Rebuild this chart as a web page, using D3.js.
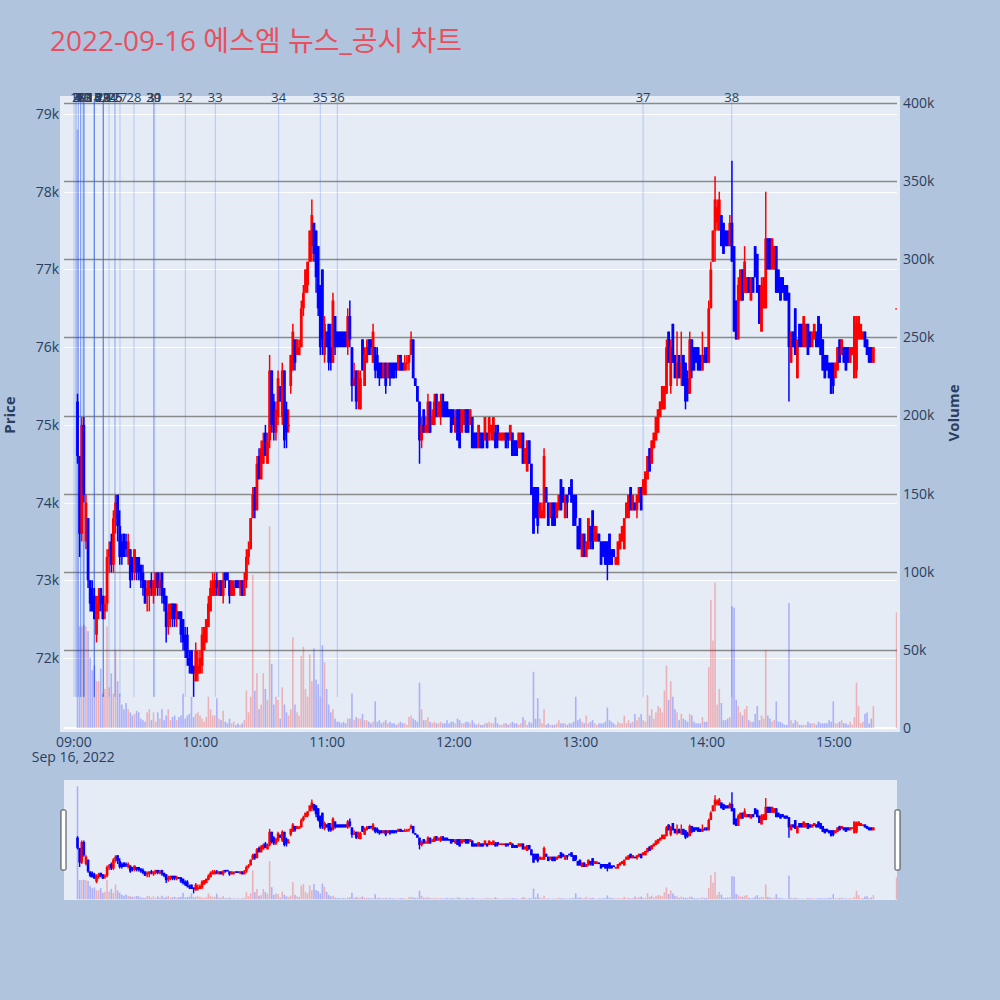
<!DOCTYPE html>
<html><head><meta charset="utf-8">
<script src="https://cdn.jsdelivr.net/npm/d3@7/dist/d3.min.js"></script>
<style>
body{margin:0;background:#B0C4DE;}
svg{display:block;font-family:"Open Sans","Noto Sans CJK KR",sans-serif;}
</style></head>
<body><svg id="chart" width="1000" height="1000"></svg>
<script>
// ---------------- data ----------------
const tradeDay = "2022-09-16";
const firstBar = "09:02";     // first 1-minute candle
const closingBar = "15:30";   // closing auction candle (last element)
const titleText = "2022-09-16 에스엠 뉴스_공시 차트";

const opens = [
75300,74600,73600,75000,73500,73800,73000,72900,72800,72300,
72600,72900,72800,72600,72700,73300,73500,73200,73800,74100,
73700,73500,73600,73500,73300,73400,73300,73100,73300,73300,
73200,73100,73000,72800,72800,73000,72800,72900,73100,72900,
73100,72900,72800,72400,72500,72700,72700,72500,72600,72600,
72500,72300,72300,72000,72100,71900,71700,71800,71800,71900,
72100,72200,72400,72600,72800,72800,73000,72800,73000,72800,
73100,73100,73000,72800,72800,73000,73000,72900,73000,72800,
73000,73300,73400,73800,74200,73900,74600,74300,74500,74900,
74500,74800,75700,75300,74900,75100,75500,75100,75700,75200,
75000,75500,75700,76100,75900,75900,76000,76500,76700,76800,
77100,77300,77600,77500,77300,76800,77000,75900,76200,76300,
76000,75800,76400,76200,76200,76200,76200,76200,76000,76400,
76000,75500,75700,75300,75200,76100,75500,75800,76100,76100,
75800,76000,75900,75800,75800,75600,75800,75600,75800,75800,
75800,75800,75700,75900,75800,75700,75800,75800,75900,76100,
75600,75500,75300,74800,75200,74900,74900,75300,75000,75000,
75400,75100,75100,75400,75300,75300,75200,75200,75200,74900,
75200,75200,74900,75000,75200,75200,75000,75100,74900,74900,
74700,74900,74900,74800,74900,74800,74900,74800,74900,75000,
74800,74800,74800,74900,74900,74800,74900,74800,74800,74700,
74700,74900,74500,74400,74800,74500,74200,74200,74200,73800,
73800,73800,74200,74000,73800,74000,74000,73800,73900,74300,
74200,73800,74100,74200,74300,74100,74100,73700,73800,73300,
73600,73300,73400,73700,73900,73500,73500,73600,73500,73500,
73500,73500,73600,73400,73400,73200,73200,73400,73500,73400,
73800,73800,74200,73900,74000,73900,74000,74200,74100,74100,
74300,74700,74500,74700,74800,74900,75100,75200,75200,75400,
76200,75500,76300,75900,75600,75900,75600,75900,75800,75600,
75400,76100,76000,76000,76000,75900,75700,75900,76000,75800,
76500,77100,77500,77600,77500,77700,77600,77500,77500,77300,
77600,77300,76600,76100,76600,77000,76700,76700,76900,76600,
76900,77300,77200,76800,76200,76500,76500,77400,77400,77000,
77000,77300,77000,76900,76900,76800,76800,76700,75800,76200,
76500,75600,76300,76300,76000,76000,76300,76200,76000,76100,
76200,76400,76300,76100,75900,75900,75800,75800,75800,75600,
75700,76100,75900,76000,76000,76000,75800,75900,75600,75700,
76100,76100,76100,76200,76100,76000,76000,75800,
76500];

const highs = [
75400,74600,75100,75100,74100,73800,73000,73000,72900,72800,
72900,72900,72800,72800,73400,73500,73600,73900,74100,74100,
73900,73600,73600,73600,73600,73400,73300,73400,73300,73300,
73200,73200,73000,73000,73000,73100,73000,73100,73100,73100,
73100,72900,72800,72700,72700,72700,72700,72700,72600,72600,
72500,72400,72400,72100,72100,71900,72200,72100,72100,72400,
72400,72500,72800,73000,73100,73100,73100,73000,73000,73100,
73100,73100,73000,73000,73000,73000,73000,73000,73000,73100,
73400,73500,73800,74200,74200,74600,74700,74800,74900,75000,
74900,75900,75700,75400,75300,75700,75500,75800,75700,75300,
75200,75900,76300,76100,76100,76100,76600,76800,77000,77100,
77500,77900,77600,77500,77300,76800,77000,76400,76200,76300,
76300,76700,76400,76200,76200,76200,76200,76200,76500,76600,
76000,75800,75700,75700,75700,76100,76000,76100,76100,76100,
76300,76000,76000,75800,75800,75800,75800,75800,75800,75800,
75800,75800,75900,75900,75800,75900,75900,75900,76200,76100,
75600,75500,75300,75100,75200,75100,75400,75300,75200,75400,
75400,75300,75400,75400,75300,75300,75200,75200,75200,75200,
75200,75200,75200,75200,75200,75200,75200,75100,74900,74900,
75000,74900,74900,75100,74900,75100,75000,75100,75000,75000,
74900,74900,74900,74900,74900,75000,74900,74800,74800,74900,
74900,74900,74700,74800,74800,74500,74200,74200,74200,74000,
74000,74700,74200,74000,74000,74000,74000,74000,74100,74300,
74200,74100,74100,74200,74300,74100,74100,73700,73800,73600,
73600,73500,73800,73700,73900,73700,73700,73600,73500,73500,
73500,73500,73600,73400,73400,73300,73500,73600,73700,73800,
74000,74100,74200,74100,74000,74100,74200,74200,74300,74400,
74600,74700,74800,74900,75100,75200,75300,75500,75500,76100,
76200,76100,76300,75900,76200,75900,76200,75900,75800,75700,
76200,76100,76000,76000,76000,75900,76200,76000,76000,76600,
77100,77500,78200,77900,78000,77700,77600,77500,77500,77700,
78400,77300,76600,76900,77000,77000,77300,76900,76900,76900,
76900,77300,77200,76800,76900,76900,78000,77400,77400,77400,
77300,77300,77000,76900,76900,76800,76800,76700,76200,76200,
76500,76100,76300,76300,76400,76300,76300,76200,76200,76300,
76200,76400,76300,76100,75900,75900,75800,75800,75800,75800,
76000,76100,76100,76000,76000,76000,76000,76000,76400,76400,
76400,76300,76200,76200,76100,76000,76000,76000,
76500];

const lows = [
74500,73300,73500,74000,73400,72900,72600,72600,72500,72200,
72500,72600,72500,72500,72600,73100,73100,73100,73600,73500,
73200,73200,73300,73300,73200,72900,73000,73000,73000,73000,
72900,72800,72700,72600,72600,72800,72700,72800,72800,72800,
72700,72600,72200,72300,72400,72400,72400,72400,72500,72200,
72100,72000,71900,71800,71800,71500,71700,71700,71800,71800,
72100,72200,72400,72600,72800,72800,72800,72800,72800,72700,
72900,73000,72700,72800,72800,72900,72900,72800,72800,72800,
72900,73200,73400,73800,73800,73900,74300,74300,74500,74600,
74500,74700,74900,74800,74800,75000,75300,75000,74700,74700,
74900,75400,75700,75700,75900,75900,76000,76400,76700,76700,
77100,77100,77100,76700,76400,75900,75900,75800,76000,75700,
75700,75800,75900,76000,76000,76000,76000,76000,75900,76000,
75300,75500,75200,75200,75200,75700,75500,75800,75900,75900,
75800,75600,75600,75500,75600,75600,75400,75600,75500,75600,
75600,75600,75700,75700,75700,75700,75700,75700,75900,75600,
75500,75300,74500,74700,74900,74900,74900,74900,75000,75000,
75100,75100,75000,75100,75100,75100,75100,74900,75000,74900,
74800,74700,74900,75000,74900,74900,75000,74700,74700,74700,
74700,74700,74700,74800,74700,74800,74800,74800,74700,74700,
74800,74800,74800,74700,74700,74800,74600,74600,74600,74700,
74700,74500,74500,74400,74500,74100,73600,73800,73600,73800,
73800,73800,74000,73700,73800,73700,73700,73800,73900,73900,
74000,73800,73800,74100,74000,73700,73700,73400,73400,73300,
73300,73300,73400,73400,73400,73500,73500,73500,73200,73300,
73200,73000,73200,73200,73300,73200,73200,73400,73500,73400,
73800,73800,73900,73900,73900,73800,74000,73900,74100,74100,
74300,74400,74500,74700,74800,74900,75100,75200,75200,75400,
75800,75400,75800,75600,75500,75600,75500,75500,75200,75300,
75400,75600,75700,75800,75700,75700,75700,75800,75800,75800,
76500,77100,77100,77500,77500,77300,77200,77300,77300,77300,
77100,76200,76100,76100,76600,76600,76700,76700,76700,76600,
76700,76900,76700,76300,76200,76500,76500,77000,77000,77000,
77000,76700,76700,76600,76700,76600,76600,75300,75800,76000,
75900,75600,76000,76000,76000,76000,75900,76000,76000,76100,
76000,76000,75900,75700,75600,75700,75600,75400,75400,75600,
75700,75800,75900,75800,75700,75800,75800,75900,75600,75600,
76100,76100,76100,76000,75900,75800,75800,75800,
76500];

const closes = [
74600,73600,75000,74100,74000,73000,72700,72600,72500,72700,
72800,72700,72500,72700,73300,73400,73200,73800,74000,73700,
73300,73300,73300,73400,73500,73000,73100,73400,73100,73100,
73000,72900,72700,72900,73000,72900,73000,73100,72900,73000,
72800,72700,72400,72600,72700,72500,72500,72600,72500,72300,
72200,72100,72000,71900,71800,71800,72100,71900,72000,72300,
72400,72500,72700,72900,73000,73000,72900,73000,72800,73000,
73000,73000,72800,73000,72900,72900,72900,73000,72800,73000,
73300,73400,73800,74100,73900,74500,74300,74700,74800,74600,
74800,75700,75000,74900,75200,75600,75300,75700,74800,74900,
75000,75900,76200,75800,76100,76000,76500,76700,77000,77100,
77500,77700,77200,76900,76500,76000,76100,76300,76000,75800,
75800,76600,76000,76000,76000,76000,76000,76000,76400,76100,
75500,75600,75300,75700,75600,75700,75900,76000,75900,76000,
76200,75700,75700,75600,75600,75800,75500,75800,75600,75600,
75600,75700,75900,75700,75700,75800,75800,75900,76100,75600,
75500,75300,74800,75000,74900,75000,75300,74900,75100,75300,
75100,75300,75300,75100,75100,75100,75100,74900,75000,75100,
74800,74700,75200,75200,74900,74900,75200,74700,74700,74700,
75000,74700,74700,75100,74700,75100,75000,75100,74700,74800,
74900,74900,74900,74700,74800,75000,74600,74600,74600,74900,
74900,74500,74700,74800,74500,74100,73600,73800,73700,74000,
73900,74600,74000,73700,74000,73700,73700,74000,74100,73900,
74000,74100,74000,74100,74000,73700,73800,73400,73400,73600,
73300,73500,73800,73500,73400,73700,73600,73500,73200,73300,
73200,73200,73200,73200,73300,73300,73500,73600,73700,73800,
74000,74100,73900,74100,73900,74100,74200,73900,74300,74400,
74600,74400,74800,74900,75100,75200,75300,75500,75500,76000,
75800,76000,75800,75600,75800,75600,75800,75500,75300,75400,
76100,75700,75700,75800,75700,75700,75900,75800,75800,76500,
77000,77500,77900,77800,77900,77300,77200,77300,77300,77600,
77100,76200,76100,76800,77000,76600,77100,76900,76700,76900,
76700,76900,76700,76300,76800,76900,77400,77000,77000,77400,
77300,76700,76700,76600,76700,76600,76600,76000,76200,76000,
75900,76100,76000,76000,76400,76300,75900,76000,76200,76300,
76000,76000,75900,75700,75600,75700,75600,75400,75500,75800,
76000,75800,76100,75800,75700,75800,76000,76000,76400,76300,
76400,76300,76200,76000,75900,75800,75800,76000,
76500];

const volumes = [
383000,65000,65000,66000,65000,62000,45000,37000,40000,30000,
30000,38000,22000,25000,65000,26000,35000,22000,50000,30000,
22000,15000,12000,16000,12000,10000,8000,9000,11000,10000,
6000,5000,4000,10000,12000,5000,10000,4000,10000,6000,
12000,5000,8000,12000,5000,7000,8000,5000,7000,8000,
22000,6000,8000,9000,20000,7000,9000,10000,8000,6000,
4000,7000,20000,12000,8000,8000,19000,6000,5000,11000,
4000,3000,6000,3000,4000,2000,3000,2000,3000,5000,
24000,10000,20000,98000,24000,35000,12000,15000,35000,25000,
18000,129000,41000,15000,20000,18000,6000,26000,15000,10000,
8000,12000,58000,15000,10000,8000,46000,52000,25000,20000,
47000,30000,51000,31000,28000,20000,53000,42000,25000,15000,
10000,12000,6000,4000,4000,3000,4000,3000,6000,6000,
22000,5000,7000,6000,6000,9000,5000,5000,4000,3000,
4000,17000,4000,5000,3000,4000,5000,3000,4000,3000,
3000,2000,3000,4000,3000,3000,2000,7000,8000,6000,
5000,4000,29000,12000,5000,5000,7000,4000,3000,4000,
3000,3000,4000,3000,3000,5000,3000,4000,4000,3000,
6000,5000,3000,3000,4000,4000,3000,5000,3000,2000,
3000,2000,2000,3000,3000,4000,3000,3000,7000,3000,
2000,2000,3000,3000,2000,3000,4000,3000,3000,2000,
3000,7000,5000,2000,4000,3000,36000,6000,19000,6000,
3000,12000,2000,3000,2000,2000,2000,3000,5000,3000,
3000,3000,2000,3000,3000,4000,20000,5000,6000,4000,
3000,8000,3000,4000,5000,3000,2000,3000,3000,3000,
4000,13000,5000,4000,3000,2000,4000,3000,3000,8000,
3000,5000,3000,4000,9000,5000,7000,9000,5000,4000,
21000,8000,12000,6000,10000,14000,13000,10000,24000,40000,
18000,30000,20000,12000,10000,5000,9000,6000,5000,4000,
9000,8000,4000,3000,3000,3000,7000,4000,4000,39000,
82000,56000,93000,15000,25000,16000,5000,5000,6000,7000,
78000,77000,18000,14000,10000,8000,12000,14000,5000,4000,
4000,9000,14000,5000,8000,6000,50000,8000,6000,4000,
5000,17000,4000,4000,3000,2000,2000,80000,5000,3000,
5000,4000,2000,2000,2000,2000,4000,3000,3000,3000,
2000,4000,3000,3000,3000,3000,5000,4000,17000,3000,
3000,4000,5000,3000,3000,2000,4000,2000,7000,29000,
14000,3000,4000,9000,10000,3000,6000,14000,
74000];

// news / disclosure markers (label i+1 belongs to newsTimes[i])
const newsTimes = [
"09:00:20","09:01:17","09:01:17","09:02:22","09:02:22","09:03:30","09:03:30","09:03:30",
"09:04:44","09:04:44","09:04:44","09:05:13","09:05:13",
"09:09:57","09:09:57","09:09:57","09:09:57","09:09:57",
"09:14:13","09:14:13","09:14:13","09:14:13","09:14:13",
"09:16:55","09:19:45","09:19:45","09:22:07","09:28:45",
"09:38:05","09:38:05","09:38:34","09:53:03","10:07:16","10:37:18","10:57:00","11:05:03",
"13:29:54","14:11:53"];
const newsLabels = ["1","2","3","4","5","6","7","8","9","10","11","12","13","14","15","16","17","18","19",
"20","21","22","23","24","25","26","27","28","29","30","31","32","33","34","35","36","37","38"];

const priceTicks = [72000,73000,74000,75000,76000,77000,78000,79000];
const volumeTicks = [0,50000,100000,150000,200000,250000,300000,350000,400000];
const timeTicks = ["09:00","10:00","11:00","12:00","13:00","14:00","15:00"];

// ---------------- build ----------------
const parseT = d3.timeParse("%Y-%m-%d %H:%M:%S");
const at = s => parseT(tradeDay + " " + (s.length === 5 ? s + ":00" : s));
const nBars = opens.length;
const base = at(firstBar);
const times = opens.map((_, i) => i === nBars - 1 ? at(closingBar) : d3.timeMinute.offset(base, i));
const bars = opens.map((o, i) => ({t: times[i], o, h: highs[i], l: lows[i], c: closes[i], v: volumes[i]}));

const svg = d3.select("#chart");
const W = 1000, H = 1000;
const L = 64, R = 897, T = 96, B = 732;
const RS_T = 780, RS_B = 900;
const INK = "#2a3f5f";
const UP = "#ff0000", DOWN = "#0000ff";
const UPV = "rgba(255,0,0,0.25)", DOWNV = "rgba(0,0,255,0.25)";

svg.append("rect").attr("width", W).attr("height", H).attr("fill", "#B0C4DE");

const x = d3.scaleTime().domain([at("08:55:36"), at("15:30:11")]).range([L, R]);
const yP = d3.scaleLinear().domain([71048, 79232]).range([B, T]);
const yV = d3.scaleLinear().domain([-2560, 404480]).range([B, T]);
const yPr = d3.scaleLinear().domain([71048, 79232]).range([RS_B, RS_T]);
const yVr = d3.scaleLinear().domain([-2560, 404480]).range([RS_B, RS_T]);

// title
svg.append("text").attr("x", 50).attr("y", 51).attr("font-size", 28)
  .attr("fill", "#e8505f").text(titleText);

// plot background
svg.append("rect").attr("x", 60).attr("y", T).attr("width", 900 - 60).attr("height", B - T).attr("fill", "#E5ECF6");

const defs = svg.append("defs");
defs.append("clipPath").attr("id", "clipMain").append("rect").attr("x", L).attr("y", T).attr("width", R - L).attr("height", B - T);
defs.append("clipPath").attr("id", "clipRS").append("rect").attr("x", L).attr("y", RS_T).attr("width", R - L).attr("height", RS_B - RS_T);

// grids
const grid = svg.append("g");
grid.selectAll(".pg").data(priceTicks).join("line")
  .attr("x1", L).attr("x2", R).attr("y1", d => Math.round(yP(d)) + 0.5).attr("y2", d => Math.round(yP(d)) + 0.5)
  .attr("stroke", "#ffffff").attr("stroke-width", 1);
grid.selectAll(".vg").data(volumeTicks.filter(d => d > 0)).join("line")
  .attr("x1", L).attr("x2", R).attr("y1", d => Math.round(yV(d)) + 0.5).attr("y2", d => Math.round(yV(d)) + 0.5)
  .attr("stroke", "#8a8a8a").attr("stroke-width", 1.4);
grid.append("line").attr("x1", L).attr("x2", R).attr("y1", yV(0)).attr("y2", yV(0))
  .attr("stroke", "#ffffff").attr("stroke-width", 2);

// news lines
const main = svg.append("g").attr("clip-path", "url(#clipMain)");
main.append("g").selectAll("line").data(newsTimes).join("line")
  .attr("x1", d => x(at(d))).attr("x2", d => x(at(d)))
  .attr("y1", yP(71500)).attr("y2", yP(79190))
  .attr("stroke", "rgba(50,100,235,0.28)").attr("stroke-width", 1);

function drawVolume(g, yv) {
  g.selectAll("rect").data(bars).join("rect")
    .attr("x", d => x(d.t) - 0.8).attr("width", 1.6)
    .attr("y", d => yv(d.v)).attr("height", d => Math.max(0, yv(0) - yv(d.v)))
    .attr("fill", d => d.c >= d.o ? UPV : DOWNV);
}
function drawCandles(g, yp, bodyW, wickW) {
  const c = g.selectAll("g").data(bars).join("g");
  c.append("line")
    .attr("x1", d => x(d.t)).attr("x2", d => x(d.t))
    .attr("y1", d => yp(d.h)).attr("y2", d => yp(d.l))
    .attr("stroke", d => d.c >= d.o ? UP : DOWN).attr("stroke-width", wickW);
  c.append("rect")
    .attr("x", d => x(d.t) - bodyW / 2).attr("width", bodyW)
    .attr("y", d => yp(Math.max(d.o, d.c)))
    .attr("height", d => Math.max(1.2, Math.abs(yp(d.o) - yp(d.c))))
    .attr("fill", d => d.c >= d.o ? UP : DOWN);
}
drawVolume(main.append("g"), yV);
drawCandles(main.append("g"), yP, 2.8, 1.5);

// news labels
svg.append("g").selectAll("text").data(newsTimes).join("text")
  .attr("x", d => x(at(d))).attr("y", 102).attr("text-anchor", "middle")
  .attr("font-size", 13).attr("fill", INK)
  .text((d, i) => newsLabels[i]);

// axes
const axL = svg.append("g").attr("transform", `translate(${L},0)`)
  .call(d3.axisLeft(yP).tickValues(priceTicks).tickFormat(d => d / 1000 + "k").tickSize(0).tickPadding(5));
const axR = svg.append("g").attr("transform", `translate(${R},0)`)
  .call(d3.axisRight(yV).tickValues(volumeTicks).tickFormat(d => d === 0 ? "0" : d / 1000 + "k").tickSize(0).tickPadding(6));
const axB = svg.append("g").attr("transform", `translate(0,${B})`)
  .call(d3.axisBottom(x).tickValues(timeTicks.map(at)).tickFormat(d3.timeFormat("%H:%M")).tickSize(0).tickPadding(5));
[axL, axR, axB].forEach(a => {
  a.select(".domain").remove();
  a.selectAll("text").attr("font-size", 14).attr("fill", INK).attr("font-family", '"Open Sans",sans-serif');
});
svg.append("text").attr("x", x(at("09:00"))).attr("y", 762).attr("text-anchor", "middle")
  .attr("font-size", 14).attr("fill", INK).text("Sep 16, 2022");

svg.append("text").attr("transform", "translate(15,415) rotate(-90)").attr("text-anchor", "middle")
  .attr("font-size", 15).attr("font-weight", "bold").attr("fill", INK).text("Price");
svg.append("text").attr("transform", "translate(959,413) rotate(-90)").attr("text-anchor", "middle")
  .attr("font-size", 15).attr("font-weight", "bold").attr("fill", INK).text("Volume");

// range slider
svg.append("rect").attr("x", L).attr("y", RS_T).attr("width", R - L).attr("height", RS_B - RS_T).attr("fill", "#E5ECF6");
const rs = svg.append("g").attr("clip-path", "url(#clipRS)");
drawVolume(rs.append("g"), yVr);
drawCandles(rs.append("g"), yPr, 2.6, 1.4);
[L - 3, R - 2].forEach(hx => {
  svg.append("rect").attr("x", hx).attr("y", 810).attr("width", 5).attr("height", 60)
    .attr("rx", 1).attr("fill", "#ffffff").attr("stroke", "#444").attr("stroke-width", 1);
});
</script></body></html>
